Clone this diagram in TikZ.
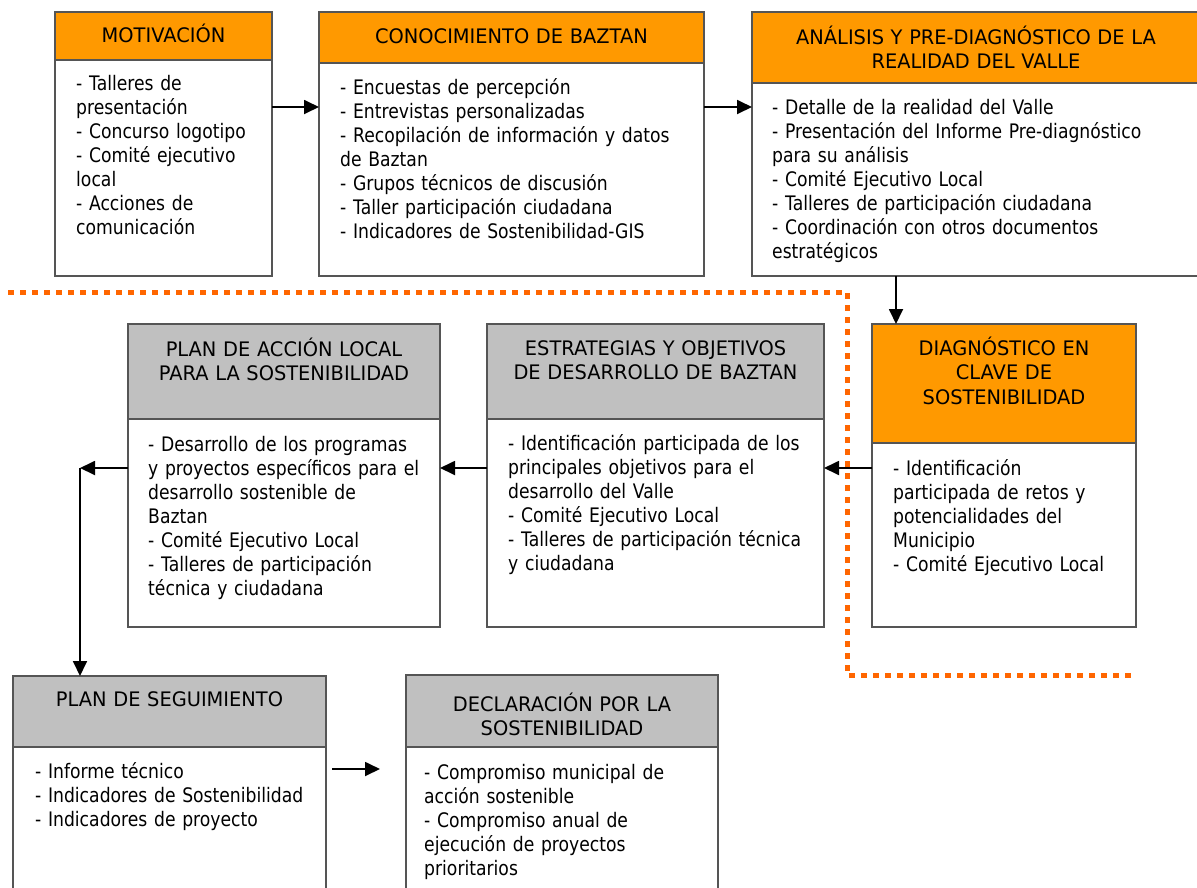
\documentclass[tikz,border=0pt]{standalone}
\usepackage{fontspec}
\setmainfont{DejaVu Sans}[FakeStretch=0.86]
\newfontfamily\hdrfont{DejaVu Sans}[FakeStretch=0.97]
\usetikzlibrary{arrows.meta}
\definecolor{orng}{HTML}{FF9900}
\definecolor{gry}{HTML}{C0C0C0}
\definecolor{bord}{HTML}{555555}
\definecolor{dotc}{HTML}{FF6600}
\newcommand\fs{\fontsize{20pt}{24pt}\selectfont}
\newcommand\hfs{\hdrfont\fontsize{20pt}{24.5pt}\selectfont}
\begin{document}
\begin{tikzpicture}[x=1pt,y=-1pt,
  box/.style={draw=bord, line width=1.8pt, anchor=north west, inner sep=0pt, outer sep=0pt},
  hO/.style={box, fill=orng},
  hG/.style={box, fill=gry},
  bd/.style={box, fill=white},
  ht/.style={anchor=base, inner sep=0pt, align=center, font=\hfs, text width=440pt},
  bt/.style={anchor=base west, inner sep=0pt, align=left, font=\fs, text width=440pt},
  arr/.style={line width=1.8pt, -{Triangle[length=15pt,width=14pt]}},
  ]
\useasboundingbox (0,0) rectangle (1197,887);
\clip (0,0) rectangle (1197,887);

% dotted separator
\draw[dotc, line width=5pt, dash pattern=on 6pt off 6pt] (8,292) -- (847,292) -- (847,675) -- (1135,675);

% Box 1
\node[hO, minimum width=217pt, minimum height=48pt] (m1h) at (55,12) {};
\node[bd, minimum width=217pt, minimum height=216pt] (m1) at (55,60) {};
\node[ht] (m1ht) at (163.5,42) {MOTIVACIÓN};
\node[bt] (m1t) at (76,90) {- Talleres de\\presentación\\- Concurso logotipo\\- Comité ejecutivo\\local\\- Acciones de\\comunicación};

% Box 2
\node[hO, minimum width=385pt, minimum height=51pt] (m2h) at (319,12) {};
\node[bd, minimum width=385pt, minimum height=213pt] (m2) at (319,63) {};
\node[ht] (m2ht) at (511.5,43) {CONOCIMIENTO DE BAZTAN};
\node[bt] (m2t) at (340,94) {- Encuestas de percepción\\- Entrevistas personalizadas\\- Recopilación de información y datos\\de Baztan\\- Grupos técnicos de discusión\\- Taller participación ciudadana\\- Indicadores de Sostenibilidad-GIS};

% Box 3
\node[hO, minimum width=448pt, minimum height=71pt] (m3h) at (752,12) {};
\node[bd, minimum width=448pt, minimum height=193pt] (m3) at (752,83) {};
\node[ht] (m3ht) at (976,44) {ANÁLISIS Y PRE-DIAGNÓSTICO DE LA\\REALIDAD DEL VALLE};
\node[bt] (m3t) at (772,114) {- Detalle de la realidad del Valle\\- Presentación del Informe Pre-diagnóstico\\para su análisis\\- Comité Ejecutivo Local\\- Talleres de participación ciudadana\\- Coordinación con otros documentos\\estratégicos};

% Box 4
\node[hO, minimum width=264pt, minimum height=119pt] (m4h) at (872,324) {};
\node[bd, minimum width=264pt, minimum height=184pt] (m4) at (872,443) {};
\node[ht] (m4ht) at (1004,355) {DIAGNÓSTICO EN\\CLAVE DE\\SOSTENIBILIDAD};
\node[bt] (m4t) at (893,475) {- Identificación\\participada de retos y\\potencialidades del\\Municipio\\- Comité Ejecutivo Local};

% Box 5
\node[hG, minimum width=337pt, minimum height=95pt] (m5h) at (487,324) {};
\node[bd, minimum width=337pt, minimum height=208pt] (m5) at (487,419) {};
\node[ht] (m5ht) at (655.5,355) {ESTRATEGIAS Y OBJETIVOS\\DE DESARROLLO DE BAZTAN};
\node[bt] (m5t) at (508,450) {- Identificación participada de los\\principales objetivos para el\\desarrollo del Valle\\- Comité Ejecutivo Local\\- Talleres de participación técnica\\y ciudadana};

% Box 6
\node[hG, minimum width=312pt, minimum height=95pt] (m6h) at (128,324) {};
\node[bd, minimum width=312pt, minimum height=208pt] (m6) at (128,419) {};
\node[ht] (m6ht) at (284,356) {PLAN DE ACCIÓN LOCAL\\PARA LA SOSTENIBILIDAD};
\node[bt] (m6t) at (148,451) {- Desarrollo de los programas\\y proyectos específicos para el\\desarrollo sostenible de\\Baztan\\- Comité Ejecutivo Local\\- Talleres de participación\\técnica y ciudadana};

% Box 7
\node[hG, minimum width=313pt, minimum height=71pt] (m7h) at (13,676) {};
\node[bd, minimum width=313pt, minimum height=160pt] (m7) at (13,747) {};
\node[ht] (m7ht) at (169.5,706) {PLAN DE SEGUIMIENTO};
\node[bt] (m7t) at (35,778) {- Informe técnico\\- Indicadores de Sostenibilidad\\- Indicadores de proyecto};

% Box 8
\node[hG, minimum width=312pt, minimum height=72pt] (m8h) at (406,675) {};
\node[bd, minimum width=312pt, minimum height=160pt] (m8) at (406,747) {};
\node[ht] (m8ht) at (562,711) {DECLARACIÓN POR LA\\SOSTENIBILIDAD};
\node[bt] (m8t) at (424,779) {- Compromiso municipal de\\acción sostenible\\- Compromiso anual de\\ejecución de proyectos\\prioritarios};

% connectors
\coordinate (yA) at (0,107);
\coordinate (yB) at (0,468);
\coordinate (yC) at (0,769);
\coordinate (x34) at (896,0);
\coordinate (turn) at (80,468);
\draw[arr] (m1.east |- yA) -- (m2.west |- yA);
\draw[arr] (m2.east |- yA) -- (m3.west |- yA);
\draw[arr] (m3.south -| x34) -- (m4h.north -| x34);
\draw[arr] (m4.west |- yB) -- (m5.east |- yB);
\draw[arr] (m5.west |- yB) -- (m6.east |- yB);
\draw[arr] (m6.west |- yB) -- (turn);
\draw[arr] (turn) -- (m7h.north -| turn);
\draw[arr] ([xshift=6pt]m7.east |- yC) -- ([xshift=-26pt]m8.west |- yC);
\end{tikzpicture}
\end{document}
